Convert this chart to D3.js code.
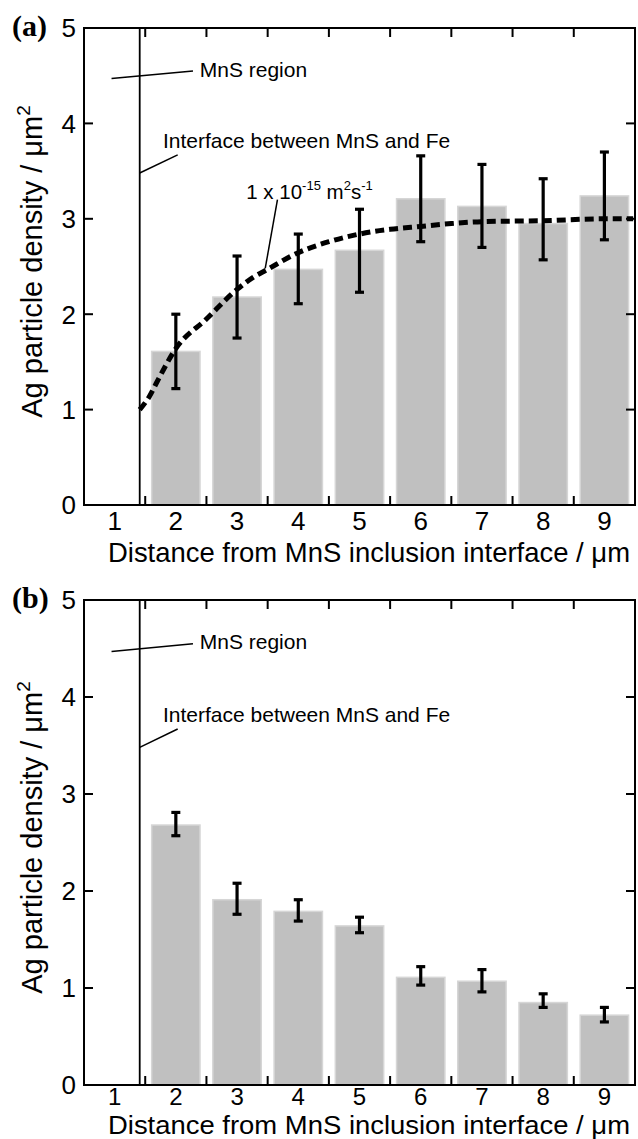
<!DOCTYPE html>
<html>
  <head>
    <meta charset="utf-8" />
    <script src="https://d3js.org/d3.v7.min.js"></script>
    <style>
      body { margin: 0; background: #fff; }
      svg { display: block; font-family: "Liberation Sans", Arial, sans-serif; }
    </style>
  </head>
  <body>
    <svg id="chart"></svg>
    <script>
      // positions along the axis (µm) and tick labels
      var distances = [2, 3, 4, 5, 6, 7, 8, 9];
      var tickLabels = ["1", "2", "3", "4", "5", "6", "7", "8", "9"];
      var yTicks = [0, 1, 2, 3, 4, 5];

      // panel (a) bars and error bar ends
      var densityA = [1.61, 2.18, 2.47, 2.67, 3.21, 3.13, 2.95, 3.24];
      var errHighA = [2.0, 2.61, 2.84, 3.10, 3.66, 3.57, 3.42, 3.70];
      var errLowA = [1.22, 1.75, 2.11, 2.23, 2.76, 2.70, 2.57, 2.78];

      // panel (b)
      var densityB = [2.68, 1.91, 1.79, 1.64, 1.11, 1.07, 0.85, 0.72];
      var errHighB = [2.81, 2.08, 1.91, 1.73, 1.22, 1.19, 0.94, 0.80];
      var errLowB = [2.57, 1.76, 1.69, 1.57, 1.03, 0.96, 0.80, 0.65];

      // diffusion curve (1e-15 m2/s)
      var curveX = [1.41, 1.57, 1.7, 2.0, 2.5, 3.0, 3.27, 3.47, 4.0, 4.5, 5.0, 5.5, 6.0, 6.5, 7.0, 8.0, 9.0, 9.47];
      var curveY = [1.0, 1.14, 1.3, 1.64, 1.95, 2.26, 2.39, 2.46, 2.645, 2.76, 2.84, 2.89, 2.92, 2.95, 2.97, 2.98, 3.0, 3.0];

      var interfaceX = 1.41;

      var width = 638;
      var height = 1139;
      var svg = d3.select("#chart").attr("width", width).attr("height", height);

      var x = d3.scaleLinear().domain([0.5, 9.5]).range([84, 635]);

      // o: per-panel layout (label gaps and font sizes of the bottom texts)
      function drawPanel(top, bottom, tag, values, hi, lo, withCurve, o) {
        var y = d3.scaleLinear().domain([0, 5]).range([bottom, top]);
        var g = svg.append("g");

        // bars
        g.selectAll("rect.bar")
          .data(values)
          .join("rect")
          .attr("class", "bar")
          .attr("x", (d, i) => x(distances[i] - 0.395))
          .attr("width", x(0.79) - x(0))
          .attr("y", (d) => y(d))
          .attr("height", (d) => y(0) - y(d))
          .attr("fill", "#c0c0c0")
          .attr("stroke", "#d6d6d6")
          .attr("stroke-width", 1.5);

        // interface line
        g.append("line")
          .attr("x1", x(interfaceX)).attr("x2", x(interfaceX))
          .attr("y1", top).attr("y2", bottom)
          .attr("stroke", "#000").attr("stroke-width", 1.8);

        // error bars
        var eb = g.selectAll("g.err").data(values).join("g").attr("class", "err");
        eb.append("line")
          .attr("x1", (d, i) => x(distances[i])).attr("x2", (d, i) => x(distances[i]))
          .attr("y1", (d, i) => y(hi[i])).attr("y2", (d, i) => y(lo[i]))
          .attr("stroke", "#000").attr("stroke-width", 3.2);
        [hi, lo].forEach(function (arr) {
          eb.append("line")
            .attr("x1", (d, i) => x(distances[i]) - 4.5).attr("x2", (d, i) => x(distances[i]) + 4.5)
            .attr("y1", (d, i) => y(arr[i])).attr("y2", (d, i) => y(arr[i]))
            .attr("stroke", "#000").attr("stroke-width", 3.2);
        });

        if (withCurve) {
          var pts = curveX.map((v, i) => [v, curveY[i]]);
          g.append("path")
            .datum(pts)
            .attr("fill", "none")
            .attr("stroke", "#000")
            .attr("stroke-width", 5)
            .attr("stroke-dasharray", "9,5")
            .attr("d", d3.line().x((d) => x(d[0])).y((d) => y(d[1])).curve(d3.curveMonotoneX));

          // label for the curve
          g.append("line")
            .attr("x1", x(3.66)).attr("y1", y(3.2))
            .attr("x2", x(3.46)).attr("y2", y(2.48))
            .attr("stroke", "#000").attr("stroke-width", 1.5);
          var t = g.append("text")
            .attr("x", x(3.15)).attr("y", y(3.21))
            .attr("font-size", 20.5);
          t.append("tspan").text("1 x 10");
          t.append("tspan").attr("font-size", 13).attr("dy", -9).text("-15");
          t.append("tspan").attr("dy", 9).text(" m");
          t.append("tspan").attr("font-size", 13).attr("dy", -9).text("2");
          t.append("tspan").attr("dy", 9).text("s");
          t.append("tspan").attr("font-size", 13).attr("dy", -9).text("-1");
        }

        // frame
        g.append("rect")
          .attr("x", x(0.5)).attr("y", top)
          .attr("width", x(9.5) - x(0.5)).attr("height", bottom - top)
          .attr("fill", "none").attr("stroke", "#000").attr("stroke-width", 2);

        // inward ticks
        var xTicks = d3.range(1.5, 9, 1);
        g.selectAll("line.xt").data(xTicks).join("line")
          .attr("x1", (d) => x(d)).attr("x2", (d) => x(d))
          .attr("y1", bottom).attr("y2", bottom - 9)
          .attr("stroke", "#000").attr("stroke-width", 2);
        g.selectAll("line.xtt").data(xTicks).join("line")
          .attr("x1", (d) => x(d)).attr("x2", (d) => x(d))
          .attr("y1", top).attr("y2", top + 9)
          .attr("stroke", "#000").attr("stroke-width", 2);
        g.selectAll("line.yt").data(yTicks).join("line")
          .attr("x1", x(0.5)).attr("x2", x(0.5) + 9)
          .attr("y1", (d) => y(d)).attr("y2", (d) => y(d))
          .attr("stroke", "#000").attr("stroke-width", 2);
        g.selectAll("line.ytr").data(yTicks).join("line")
          .attr("x1", x(9.5)).attr("x2", x(9.5) - 9)
          .attr("y1", (d) => y(d)).attr("y2", (d) => y(d))
          .attr("stroke", "#000").attr("stroke-width", 2);

        // tick labels
        g.selectAll("text.xl").data(tickLabels).join("text")
          .attr("x", (d) => x(+d)).attr("y", bottom + o.labelGap)
          .attr("text-anchor", "middle").attr("font-size", o.tickSize)
          .text((d) => d);
        g.selectAll("text.yl").data(yTicks).join("text")
          .attr("x", 76).attr("y", (d) => y(d)).attr("dy", "0.36em")
          .attr("text-anchor", "end").attr("font-size", 26)
          .text((d) => d);

        // axis titles
        g.append("text")
          .attr("x", 108).attr("y", bottom + o.titleGap)
          .attr("font-size", o.titleSize)
          .attr("textLength", 522)
          .attr("lengthAdjust", "spacingAndGlyphs")
          .text("Distance from MnS inclusion interface / \u03bcm");
        var yl = g.append("text")
          .attr("transform", "translate(42," + ((top + bottom) / 2 - 5) + ") rotate(-90)")
          .attr("text-anchor", "middle").attr("font-size", 29);
        yl.append("tspan").text("Ag particle density / \u03bcm");
        yl.append("tspan").attr("font-size", 19).attr("dy", -12).text("2");

        // panel tag
        g.append("text")
          .attr("x", 12).attr("y", top + 8)
          .attr("font-family", "'Liberation Serif', 'Times New Roman', serif")
          .attr("font-weight", "bold").attr("font-size", 30)
          .text(tag);

        // annotations
        g.append("line")
          .attr("x1", x(0.95)).attr("y1", y(4.47))
          .attr("x2", x(2.28)).attr("y2", y(4.55))
          .attr("stroke", "#000").attr("stroke-width", 1.5);
        g.append("text")
          .attr("x", x(2.39)).attr("y", y(4.49))
          .attr("font-size", 21)
          .text("MnS region");
        g.append("line")
          .attr("x1", x(interfaceX)).attr("y1", y(3.48))
          .attr("x2", x(2.03)).attr("y2", y(3.67))
          .attr("stroke", "#000").attr("stroke-width", 1.5);
        g.append("text")
          .attr("x", x(1.79)).attr("y", y(3.74))
          .attr("font-size", 21)
          .text("Interface between MnS and Fe");
      }

      drawPanel(28, 505, "(a)", densityA, errHighA, errLowA, true,
        { labelGap: 25, tickSize: 26, titleGap: 57, titleSize: 27.5 });
      drawPanel(600, 1085, "(b)", densityB, errHighB, errLowB, false,
        { labelGap: 19.5, tickSize: 24, titleGap: 48.5, titleSize: 26 });
    </script>
  </body>
</html>
